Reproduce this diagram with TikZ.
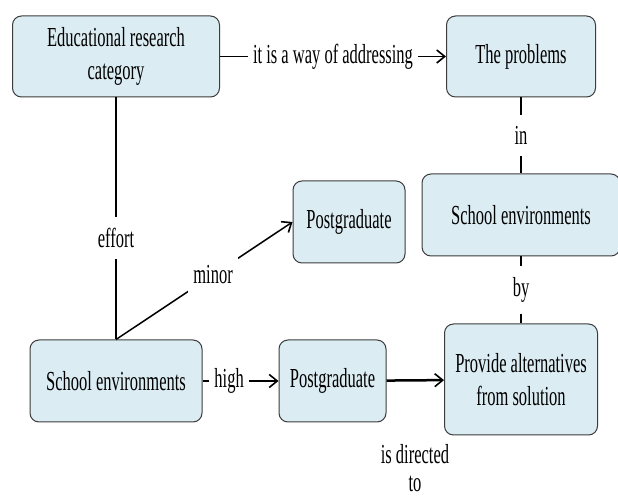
\documentclass[tikz,border=0pt]{standalone}
\usepackage{fontspec}
\setmainfont{Liberation Serif}[FakeStretch=0.6]
\usetikzlibrary{arrows.meta}
\definecolor{boxfill}{RGB}{219,236,242}
\definecolor{boxline}{RGB}{60,60,60}
\tikzset{
  concept/.style={draw=boxline,fill=boxfill,rounded corners=9pt,line width=1pt,
    align=center,inner sep=0pt,font=\fontsize{27.5}{33}\selectfont},
  link/.style={fill=white,inner xsep=5pt,inner ysep=11pt,align=center,
    font=\fontsize{27.5}{30}\selectfont},
  conn/.style={line width=1.5pt},
  tip/.style={-{Straight Barb[length=8pt,width=13pt,line width=1.6pt]}}
}
\begin{document}
\begin{tikzpicture}[x=1pt,y=1pt]
\useasboundingbox (0,0) rectangle (618,500);
\node[concept,minimum width=207pt,minimum height=81pt] (edu) at (116,443.5) {Educational research\\category};
\node[concept,minimum width=149pt,minimum height=81pt] (prob) at (521,443.5) {The problems};
\node[concept,minimum width=198pt,minimum height=82pt] (envR) at (521,285) {School environments};
\node[concept,minimum width=112pt,minimum height=82pt] (pgUp) at (349,278) {Postgraduate};
\node[concept,minimum width=172pt,minimum height=82pt] (envL) at (116,119) {School environments};
\node[concept,minimum width=107pt,minimum height=82pt] (pgLo) at (332.5,119) {Postgraduate};
\node[concept,minimum width=153pt,minimum height=111pt] (alt) at (521,120.5) {Provide alternatives\\from solution};
\node[link,inner ysep=2pt,font=\fontsize{27.5}{28}\selectfont] (dir) at (415,32) {is directed\\to};
\draw[conn,tip] (edu) -- node[link]{it is a way of addressing} (prob);
\draw[conn] (prob) -- node[link]{in} (envR);
\draw[conn] (envR) -- node[link]{by} (alt);
\draw[conn] (edu) -- node[link,pos=0.58]{effort} (envL);
\draw[conn,tip] (envL.north) -- node[link,pos=0.55]{minor} (pgUp.west);
\draw[conn,tip] (envL) -- node[link,pos=0.35]{high} (pgLo);
\draw[line width=2.5pt,tip] (pgLo) -- (alt);
\end{tikzpicture}
\end{document}
